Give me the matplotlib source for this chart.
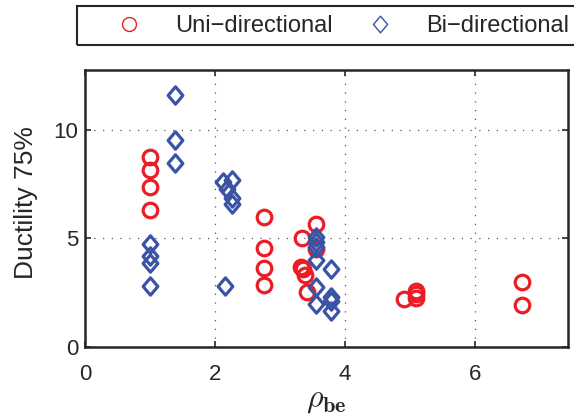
import matplotlib
matplotlib.use('Agg')
import matplotlib.pyplot as plt
import matplotlib.patches as patches
from matplotlib.lines import Line2D
from matplotlib.path import Path

# rho_be vs ductility at 75%, two loading types
uni_x = [1.0, 1.0, 1.0, 1.0,
         2.75, 2.75, 2.75, 2.75,
         3.55, 3.34, 3.55, 3.32, 3.36, 3.39, 3.42,
         4.91, 5.09, 5.09, 5.09,
         6.73, 6.73]
uni_y = [8.75, 8.15, 7.37, 6.3,
         6.0, 4.55, 3.63, 2.85,
         5.67, 5.0, 4.52, 3.68, 3.6, 3.3, 2.52,
         2.21, 2.6, 2.45, 2.27,
         3.01, 1.94]

bi_x = [1.0, 1.0, 1.0, 1.0,
        1.39, 1.39, 1.39,
        2.15,
        2.13, 2.26, 2.18, 2.26, 2.26,
        3.55, 3.55, 3.55, 3.55, 3.78, 3.55, 3.78, 3.78, 3.55, 3.78]
bi_y = [4.75, 4.2, 3.85, 2.8,
        11.6, 9.55, 8.45,
        2.8,
        7.6, 7.7, 7.25, 6.85, 6.6,
        5.07, 4.85, 4.6, 4.0, 3.57, 2.74, 2.3, 2.1, 1.97, 1.66]

xticks = [0, 2, 4, 6]
yticks = [0, 5, 10]

RED = '#ec1c24'
BLUE = '#3a53a4'
TXT = '#262626'

plt.rcParams['font.family'] = ['Liberation Sans', 'DejaVu Sans']
plt.rcParams['mathtext.fontset'] = 'cm'

# MATLAB style diamond, a bit wider than matplotlib's thin one
diamond = Path([(0, 1), (0.85, 0), (0, -1), (-0.85, 0), (0, 1)],
               [Path.MOVETO, Path.LINETO, Path.LINETO, Path.LINETO, Path.CLOSEPOLY])

fig = plt.figure(figsize=(5.74, 4.17), dpi=100)
ax = fig.add_axes([85/574, 1-347/417, (568-85)/574, (347-70)/417])

ax.plot(uni_x, uni_y, linestyle='none', marker='o', markersize=10.5,
        markerfacecolor='none', markeredgecolor=RED, markeredgewidth=2.3)
ax.plot(bi_x, bi_y, linestyle='none', marker=diamond, markersize=12.5,
        markerfacecolor='none', markeredgecolor=BLUE, markeredgewidth=2.3)

ax.set_xlim(0, 7.43)
ax.set_ylim(0, 12.75)
ax.set_xticks(xticks)
ax.set_yticks(yticks)
ax.grid(True, color='#555555', linestyle=(0, (1, 6)), linewidth=0.9)
ax.tick_params(direction='in', top=True, right=True, length=4, width=1.2,
               labelsize=16, colors=TXT)
ax.tick_params(axis='x', pad=12)
ax.tick_params(axis='y', pad=5)
for s in ax.spines.values():
    s.set_linewidth(1.8)
    s.set_color(TXT)

ax.set_ylabel('Ductility 75%', fontsize=19, color=TXT)
ax.yaxis.set_label_coords(-0.097, 0.52)
ax.set_xlabel(r'$\rho_{\mathbf{be}}$', fontsize=23, color=TXT, labelpad=0)

handles = [
    Line2D([], [], linestyle='none', marker='o', markersize=10,
           markerfacecolor='none', markeredgecolor=RED, markeredgewidth=1.0),
    Line2D([], [], linestyle='none', marker=diamond, markersize=12,
           markerfacecolor='none', markeredgecolor=BLUE, markeredgewidth=1.0),
]
leg = fig.legend(handles, ['Uni\u2212directional', 'Bi\u2212directional'],
                 loc='upper left', bbox_to_anchor=(77/574, 1-6/417),
                 bbox_transform=fig.transFigure, ncol=2, fontsize=17,
                 frameon=False, borderpad=0.4, handlelength=3.6,
                 handletextpad=0.15, columnspacing=0.2, borderaxespad=0)
for t in leg.get_texts():
    t.set_color(TXT)

# legend box runs off the right edge of the figure
box = patches.Rectangle((77/574, 1-45/417), 1.0, 39/417, transform=fig.transFigure,
                        fill=False, edgecolor=TXT, linewidth=1.5)
fig.patches.append(box)

fig.savefig('out.png', dpi=100)
